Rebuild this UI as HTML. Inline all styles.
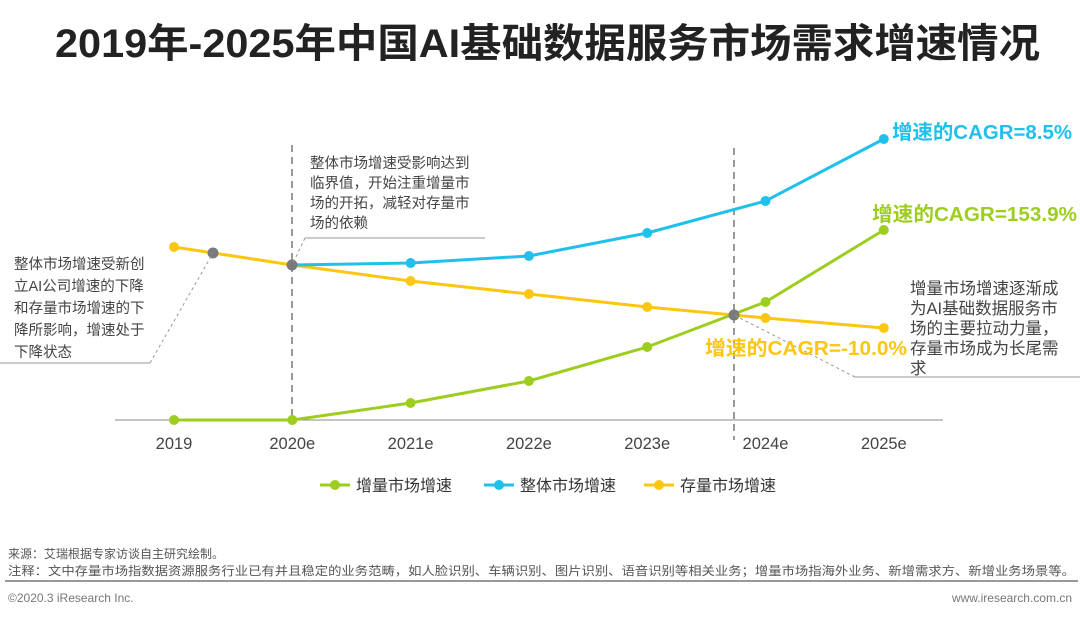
<!DOCTYPE html>
<html><head><meta charset="utf-8">
<style>
body{margin:0;width:1080px;height:618px;background:#fff;overflow:hidden;font-family:"Liberation Sans","Noto Sans CJK SC",sans-serif;}
svg{position:absolute;left:0;top:0}
</style></head>
<body>
<svg id="c" width="1080" height="618">
<text x="55" y="57" textLength="985" lengthAdjust="spacingAndGlyphs" font-size="40" font-weight="bold" fill="#222" font-family="Liberation Sans, Noto Sans CJK SC, sans-serif">2019年-2025年中国AI基础数据服务市场需求增速情况</text>
<line x1="115" y1="420" x2="943" y2="420" stroke="#888" stroke-width="1"/>
<line x1="292" y1="145" x2="292" y2="425" stroke="#777" stroke-width="1.5" stroke-dasharray="7,5"/>
<line x1="734" y1="148" x2="734" y2="440" stroke="#777" stroke-width="1.5" stroke-dasharray="7,5"/>
<g id="series"></g>
<g font-size="14.5" fill="#444" font-family="Liberation Sans, Noto Sans CJK SC, sans-serif">
<g>
<text x="14" y="269">整体市场增速受新创</text><text x="14" y="291">立AI公司增速的下降</text><text x="14" y="313">和存量市场增速的下</text><text x="14" y="335">降所影响，增速处于</text><text x="14" y="357">下降状态</text>
</g>
<line x1="0" y1="363" x2="150" y2="363" stroke="#999"/>
<line x1="150" y1="363" x2="213" y2="253" stroke="#999" stroke-dasharray="3,3"/>
<g>
<text x="310" y="168">整体市场增速受影响达到</text><text x="310" y="188">临界值，开始注重增量市</text><text x="310" y="208">场的开拓，减轻对存量市</text><text x="310" y="228">场的依赖</text>
</g>
<line x1="305" y1="238" x2="485" y2="238" stroke="#999"/>
<line x1="305" y1="238" x2="292" y2="265" stroke="#999" stroke-dasharray="3,3"/>
<g font-size="16.5">
<text x="910" y="294">增量市场增速逐渐成</text><text x="910" y="314">为AI基础数据服务市</text><text x="910" y="334">场的主要拉动力量，</text><text x="910" y="354">存量市场成为长尾需</text><text x="910" y="374">求</text>
</g>
<line x1="855" y1="377" x2="1080" y2="377" stroke="#999"/>
<line x1="855" y1="377" x2="734" y2="315" stroke="#999" stroke-dasharray="3,3"/>
</g>
<g font-size="20" font-weight="bold" font-family="Liberation Sans, Noto Sans CJK SC, sans-serif">
<text x="892" y="139" textLength="180" lengthAdjust="spacingAndGlyphs" fill="#1fc1ec">增速的CAGR=8.5%</text>
<text x="872" y="221" textLength="205" lengthAdjust="spacingAndGlyphs" fill="#9dcd1e">增速的CAGR=153.9%</text>
<text x="705" y="355" textLength="202" lengthAdjust="spacingAndGlyphs" fill="#fcc611">增速的CAGR=-10.0%</text>
</g>
<g id="ticks" font-size="16.5" fill="#444" text-anchor="middle" font-family="Liberation Sans, sans-serif"></g>
<g id="legend" font-size="16" fill="#333" font-family="Liberation Sans, Noto Sans CJK SC, sans-serif"></g>
<g font-size="12" fill="#555" font-family="Liberation Sans, Noto Sans CJK SC, sans-serif">
<text x="8" y="558">来源：艾瑞根据专家访谈自主研究绘制。</text>
<text x="8" y="575" textLength="1067" lengthAdjust="spacingAndGlyphs">注释：文中存量市场指数据资源服务行业已有并且稳定的业务范畴，如人脸识别、车辆识别、图片识别、语音识别等相关业务；增量市场指海外业务、新增需求方、新增业务场景等。</text>
<line x1="5" y1="581" x2="1078" y2="581" stroke="#999" stroke-width="2"/>
<text x="8" y="602" fill="#777">©2020.3 iResearch Inc.</text>
<text x="1072" y="602" fill="#777" text-anchor="end">www.iresearch.com.cn</text>
</g>
</svg>
<script>
const categories=["2019","2020e","2021e","2022e","2023e","2024e","2025e"];
const incremental=[0,0,17,39,73,118,190];
const total=[null,155,157,164,187,219,281];
const stock=[173,155,139,126,113,102,92];
const seriesNames=["增量市场增速","整体市场增速","存量市场增速"];
const NS="http://www.w3.org/2000/svg";
const xs=i=>174+i*118.3;
const ys=v=>420-v;
function mk(t,a,p){const e=document.createElementNS(NS,t);for(const k in a)e.setAttribute(k,a[k]);p.appendChild(e);return e;}
const g=document.getElementById('series');
const cols=["#9dcd1e","#1fc1ec","#fcc611"];
const names=["incremental","total","stock"];
[stock,incremental,total].forEach((s,j0)=>{
  const j=[2,0,1][j0];
  const pts=[];s.forEach((v,i)=>{if(v!=null)pts.push([xs(i),ys(v)]);});
  const pl=mk('polyline',{points:pts.map(p=>p.join(',')).join(' '),fill:'none',stroke:cols[j],'stroke-width':3},g);
  
  
  pts.forEach((p,i)=>{const c=mk('circle',{cx:p[0],cy:p[1],r:5,fill:cols[j]},g);
    
    });
});
[[213,253],[292,265],[734,315]].forEach(p=>{const c=mk('circle',{cx:p[0],cy:p[1],r:5.5,fill:'#7a7a7a'},g);
  
  });
const tk=document.getElementById('ticks');
categories.forEach((c,i)=>{const t=mk('text',{x:xs(i),y:449},tk);t.textContent=c;
  
  });
const lg=document.getElementById('legend');
[[320,0],[484,1],[644,2]].forEach(([x,j])=>{
  const l=mk('line',{x1:x,y1:485,x2:x+30,y2:485,stroke:cols[j],'stroke-width':3},lg);
  
  
  mk('circle',{cx:x+15,cy:485,r:5,fill:cols[j]},lg);
  const t=mk('text',{x:x+36,y:491},lg);t.textContent=seriesNames[j];
  
  
});
</script>
</body></html>
